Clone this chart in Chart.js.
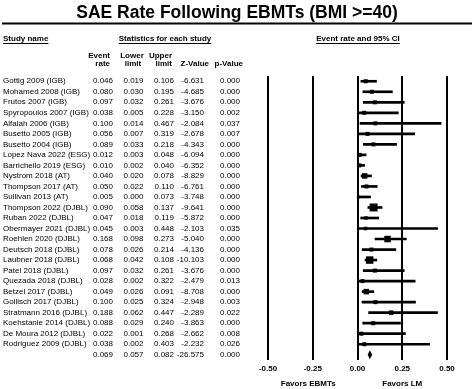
<!DOCTYPE html>
<html>
<head>
<meta charset="utf-8">
<script src="https://cdn.jsdelivr.net/npm/chart.js@4.4.1/dist/chart.umd.min.js"></script>
<style>
  html, body { margin: 0; padding: 0; background: #fff; }
  #wrap { width: 474px; height: 389px; }
</style>
</head>
<body>
<div id="wrap"><canvas id="forest" width="474" height="389"></canvas></div>
<script>
// study data
const studies = ['Gottig 2009 (IGB)', 'Mohamed 2008 (IGB)', 'Frutos 2007 (IGB)', 'Spyropoulos 2007 (IGB)',
  'Alfalah 2006 (IGB)', 'Busetto 2005 (IGB)', 'Busetto 2004 (IGB)', 'Lopez Nava 2022 (ESG)',
  'Barrichello 2019 (ESG)', 'Nystrom 2018 (AT)', 'Thompson 2017 (AT)', 'Sullivan 2013 (AT)',
  'Thompson 2022 (DJBL)', 'Ruban 2022 (DJBL)', 'Obermayer 2021 (DJBL)', 'Roehlen 2020 (DJBL)',
  'Deutsch 2018 (DJBL)', 'Laubner 2018 (DJBL)', 'Patel 2018 (DJBL)', 'Quezada 2018 (DJBL)',
  'Betzel 2017 (DJBL)', 'Gollisch 2017 (DJBL)', 'Stratmann 2016 (DJBL)', 'Koehstanie 2014 (DJBL)',
  'De Moura 2012 (DJBL)', 'Rodriguez 2009 (DJBL)'];
const eventRate = [0.046, 0.080, 0.097, 0.038, 0.100, 0.056, 0.089, 0.012, 0.010, 0.040, 0.050, 0.005, 0.090,
  0.047, 0.045, 0.168, 0.078, 0.068, 0.097, 0.028, 0.049, 0.100, 0.188, 0.088, 0.022, 0.038];
const lowerLimit = [0.019, 0.030, 0.032, 0.005, 0.014, 0.007, 0.033, 0.003, 0.002, 0.020, 0.022, 0.000, 0.058,
  0.018, 0.003, 0.098, 0.026, 0.042, 0.032, 0.002, 0.026, 0.025, 0.062, 0.029, 0.001, 0.002];
const upperLimit = [0.106, 0.195, 0.261, 0.228, 0.467, 0.319, 0.218, 0.048, 0.040, 0.078, 0.110, 0.073, 0.137,
  0.119, 0.448, 0.273, 0.214, 0.108, 0.261, 0.322, 0.091, 0.324, 0.447, 0.240, 0.268, 0.403];
const zValue = [-6.631, -4.685, -3.676, -3.150, -2.084, -2.678, -4.343, -6.094, -6.352, -8.829, -6.761, -3.748,
  -9.641, -5.872, -2.103, -5.040, -4.136, -10.103, -3.676, -2.479, -8.708, -2.948, -2.289, -3.863, -2.662, -2.232];
const pValue = [0.000, 0.000, 0.000, 0.002, 0.037, 0.007, 0.000, 0.000, 0.000, 0.000, 0.000, 0.000, 0.000,
  0.000, 0.035, 0.000, 0.000, 0.000, 0.000, 0.013, 0.000, 0.003, 0.022, 0.000, 0.008, 0.026];
// relative weight (%)
const weight = [3, 3, 3, 3, 3, 3, 3, 3, 3, 5.7, 3, 1.7, 12, 2.3, 2.3, 7.9, 3, 10.5, 3, 3, 5.7, 3, 3.8, 3, 3, 3];

// pooled result
const pooledRate = 0.069;
const pooledLower = 0.057;
const pooledUpper = 0.082;
const pooledZ = -26.575;
const pooledP = 0.000;

const xTicks = [-0.5, -0.25, 0, 0.25, 0.5];

const FONT = "'Liberation Sans', Arial, sans-serif";
const summaryRow = studies.length;

const ciData = studies.map((s, i) => ({ x: [lowerLimit[i], upperLimit[i]], y: i }));
const pointData = studies.map((s, i) => ({ x: eventRate[i], y: i }));

const textPlugin = {
  id: 'tableText',
  afterDatasetsDraw(chart) {
    const ctx = chart.ctx;
    const x = chart.scales.x, y = chart.scales.y;
    // pooled diamond
    const cy = y.getPixelForValue(summaryRow);
    ctx.save();
    ctx.fillStyle = '#000';
    ctx.beginPath();
    ctx.moveTo(x.getPixelForValue(pooledLower), cy);
    ctx.lineTo(x.getPixelForValue(pooledRate), cy - 4.5);
    ctx.lineTo(x.getPixelForValue(pooledUpper), cy);
    ctx.lineTo(x.getPixelForValue(pooledRate), cy + 4.5);
    ctx.closePath();
    ctx.fill();
    ctx.restore();
  },
  afterDraw(chart) {
    const ctx = chart.ctx;
    const x = chart.scales.x, y = chart.scales.y;
    ctx.save();
    ctx.fillStyle = '#000';
    ctx.strokeStyle = '#000';

    // title + rule
    ctx.font = 'bold 17.5px ' + FONT;
    ctx.textAlign = 'center';
    ctx.textBaseline = 'middle';
    ctx.fillText('SAE Rate Following EBMTs (BMI >=40)', 237, 13);
    ctx.lineWidth = 2;
    ctx.beginPath();
    ctx.moveTo(2, 23.5);
    ctx.lineTo(472, 23.5);
    ctx.stroke();

    // underlined headers
    ctx.font = 'bold 8px ' + FONT;
    ctx.lineWidth = 1;
    const heads = [['Study name', 3, 'left'], ['Statistics for each study', 165, 'center'],
      ['Event rate and 95% CI', x.getPixelForValue(0) + 0.5, 'center']];
    heads.forEach(h => {
      ctx.textAlign = h[2];
      ctx.fillText(h[0], h[1], 38.5);
      const w = ctx.measureText(h[0]).width;
      const x0 = h[2] === 'left' ? h[1] : h[1] - w / 2;
      ctx.beginPath();
      ctx.moveTo(x0, 43.5);
      ctx.lineTo(x0 + w, 43.5);
      ctx.stroke();
    });

    // column headers
    ctx.textAlign = 'right';
    ctx.fillText('Event', 110, 55.5);
    ctx.fillText('rate', 110, 64);
    ctx.textAlign = 'center';
    ctx.fillText('Lower', 132, 55.5);
    ctx.fillText('limit', 133, 64);
    ctx.textAlign = 'right';
    ctx.fillText('Upper', 172, 55.5);
    ctx.fillText('limit', 172, 64);
    ctx.fillText('Z-Value', 209, 64);
    ctx.fillText('p-Value', 243, 64);

    // rows
    ctx.font = '8px ' + FONT;
    const cols = [113, 143.5, 174, 204, 240];
    const row = (vals, yy) => {
      ctx.textAlign = 'right';
      vals.forEach((v, k) => ctx.fillText(v.toFixed(3), cols[k], yy));
    };
    studies.forEach((s, i) => {
      const yy = y.getPixelForValue(i);
      ctx.textAlign = 'left';
      ctx.fillText(s, 3, yy);
      row([eventRate[i], lowerLimit[i], upperLimit[i], zValue[i], pValue[i]], yy);
    });
    row([pooledRate, pooledLower, pooledUpper, pooledZ, pooledP], y.getPixelForValue(summaryRow));

    // favours labels
    ctx.font = 'bold 8px ' + FONT;
    ctx.textAlign = 'center';
    ctx.fillText('Favors EBMTs', x.getPixelForValue(-0.25) - 4.5, 383.5);
    ctx.fillText('Favors LM', x.getPixelForValue(0.25), 383.5);
    ctx.restore();
  }
};

new Chart(document.getElementById('forest'), {
  type: 'bar',
  data: {
    datasets: [{
      type: 'scatter',
      data: pointData,
      pointStyle: 'rect',
      pointRadius: weight.map(w => 1.63 * Math.sqrt(w)),
      pointBorderWidth: 0,
      backgroundColor: '#000',
      borderColor: '#000',
      order: 0
    }, {
      data: ciData,
      backgroundColor: '#000',
      barThickness: 2,
      order: 1
    }]
  },
  plugins: [textPlugin],
  options: {
    indexAxis: 'y',
    responsive: false,
    animation: false,
    devicePixelRatio: 1,
    layout: { padding: { left: 268, right: 27, top: 76, bottom: 0 } },
    plugins: { legend: { display: false }, tooltip: { enabled: false } },
    scales: {
      x: {
        type: 'linear',
        min: -0.5,
        max: 0.5,
        afterBuildTicks: (scale) => { scale.ticks = xTicks.map(v => ({ value: v })); },
        afterFit: (scale) => { scale.height = 29; },
        grid: { color: '#000', lineWidth: 2, drawTicks: false },
        border: { display: false },
        ticks: {
          padding: 4,
          color: '#000',
          font: { family: FONT, size: 8, weight: 'bold' },
          callback: (v) => Number(v).toFixed(2)
        }
      },
      y: {
        type: 'linear',
        display: false,
        offset: false,
        reverse: true,
        min: -0.5,
        max: summaryRow + 0.5
      }
    }
  }
});
</script>
</body>
</html>
